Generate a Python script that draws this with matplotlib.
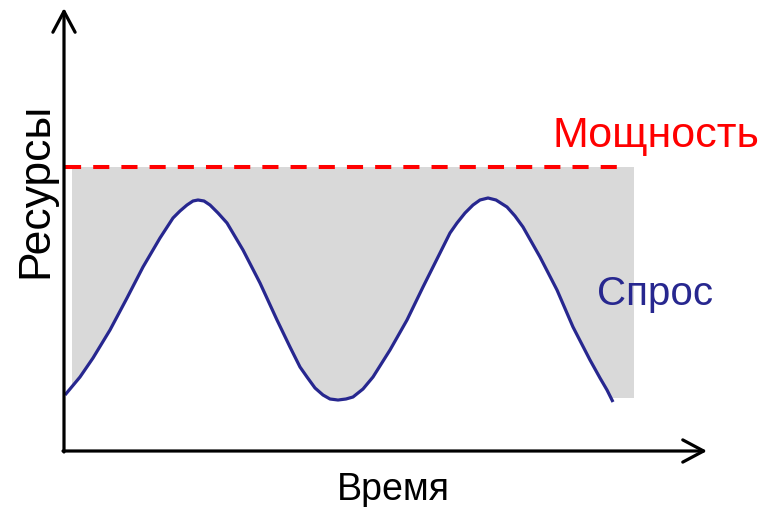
import numpy as np
import matplotlib.pyplot as plt

plt.rcParams['font.family'] = ['Liberation Sans', 'DejaVu Sans']

# demand curve (time, resources)
time = [1, 16, 29, 46, 63, 79, 96, 109, 116, 123, 129, 134, 140, 146, 154,
        163, 179, 196, 213, 226, 236, 243, 251, 259, 266, 274, 282, 289, 299,
        309, 326, 343, 359, 376, 386, 393, 401, 409, 416, 424, 432, 443, 451,
        459, 476, 493, 509, 526, 536, 543, 549]
demand = [56, 74, 93, 121, 153, 184, 213, 233, 240, 246, 250, 251, 250, 246,
          238, 228, 201, 168, 131, 104, 84, 74, 63, 56, 52, 51, 52, 54, 62,
          74, 101, 131, 164, 198, 218, 228, 238, 246, 251, 253, 251, 244, 235,
          224, 194, 161, 124, 91, 73, 61, 49]

capacity = 284.5
cap_t = [1, 564]
fill_t = [8, 570]
fill_bottom = 53

fig = plt.figure(figsize=(7.59, 5.07), dpi=100)
ax = fig.add_axes([0, 0, 1, 1])
ax.set_xlim(-64, 695)
ax.set_ylim(-56, 451)
ax.axis('off')

#grey spare capacity above the demand curve
ax.fill_between(fill_t, fill_bottom, capacity, color='#d9d9d9', lw=0, zorder=1)
ax.fill_between(time, 0, demand, color='white', lw=0, zorder=2)
ax.plot(cap_t, [capacity, capacity], color='#ff0000', lw=2.9,
        linestyle=(0, (4, 3)), zorder=3)
ax.plot(time, demand, color='#27278f', lw=2.3, zorder=4,
        solid_capstyle='butt', solid_joinstyle='round')

#axes with arrows
arr = dict(arrowstyle='->,head_length=0.75,head_width=0.4', lw=2.3,
           color='black', mutation_scale=20, shrinkA=0, shrinkB=0)
ax.annotate('', xy=(643, 0), xytext=(-1, 0), arrowprops=arr, zorder=5)
ax.annotate('', xy=(0, 443), xytext=(0, -1), arrowprops=arr, zorder=5)

ax.text(489, 304, 'Мощность', color='#ff0000', fontsize=31,
        ha='left', va='baseline')
ax.text(533, 146, 'Спрос', color='#27278f', fontsize=29,
        ha='left', va='baseline')
ax.text(273, -49, 'Время', color='black', fontsize=27,
        ha='left', va='baseline')
ax.text(-17, 261, 'Ресурсы', color='black', fontsize=32, rotation=90,
        rotation_mode='anchor', ha='center', va='baseline')

plt.savefig('out.png', dpi=100)
